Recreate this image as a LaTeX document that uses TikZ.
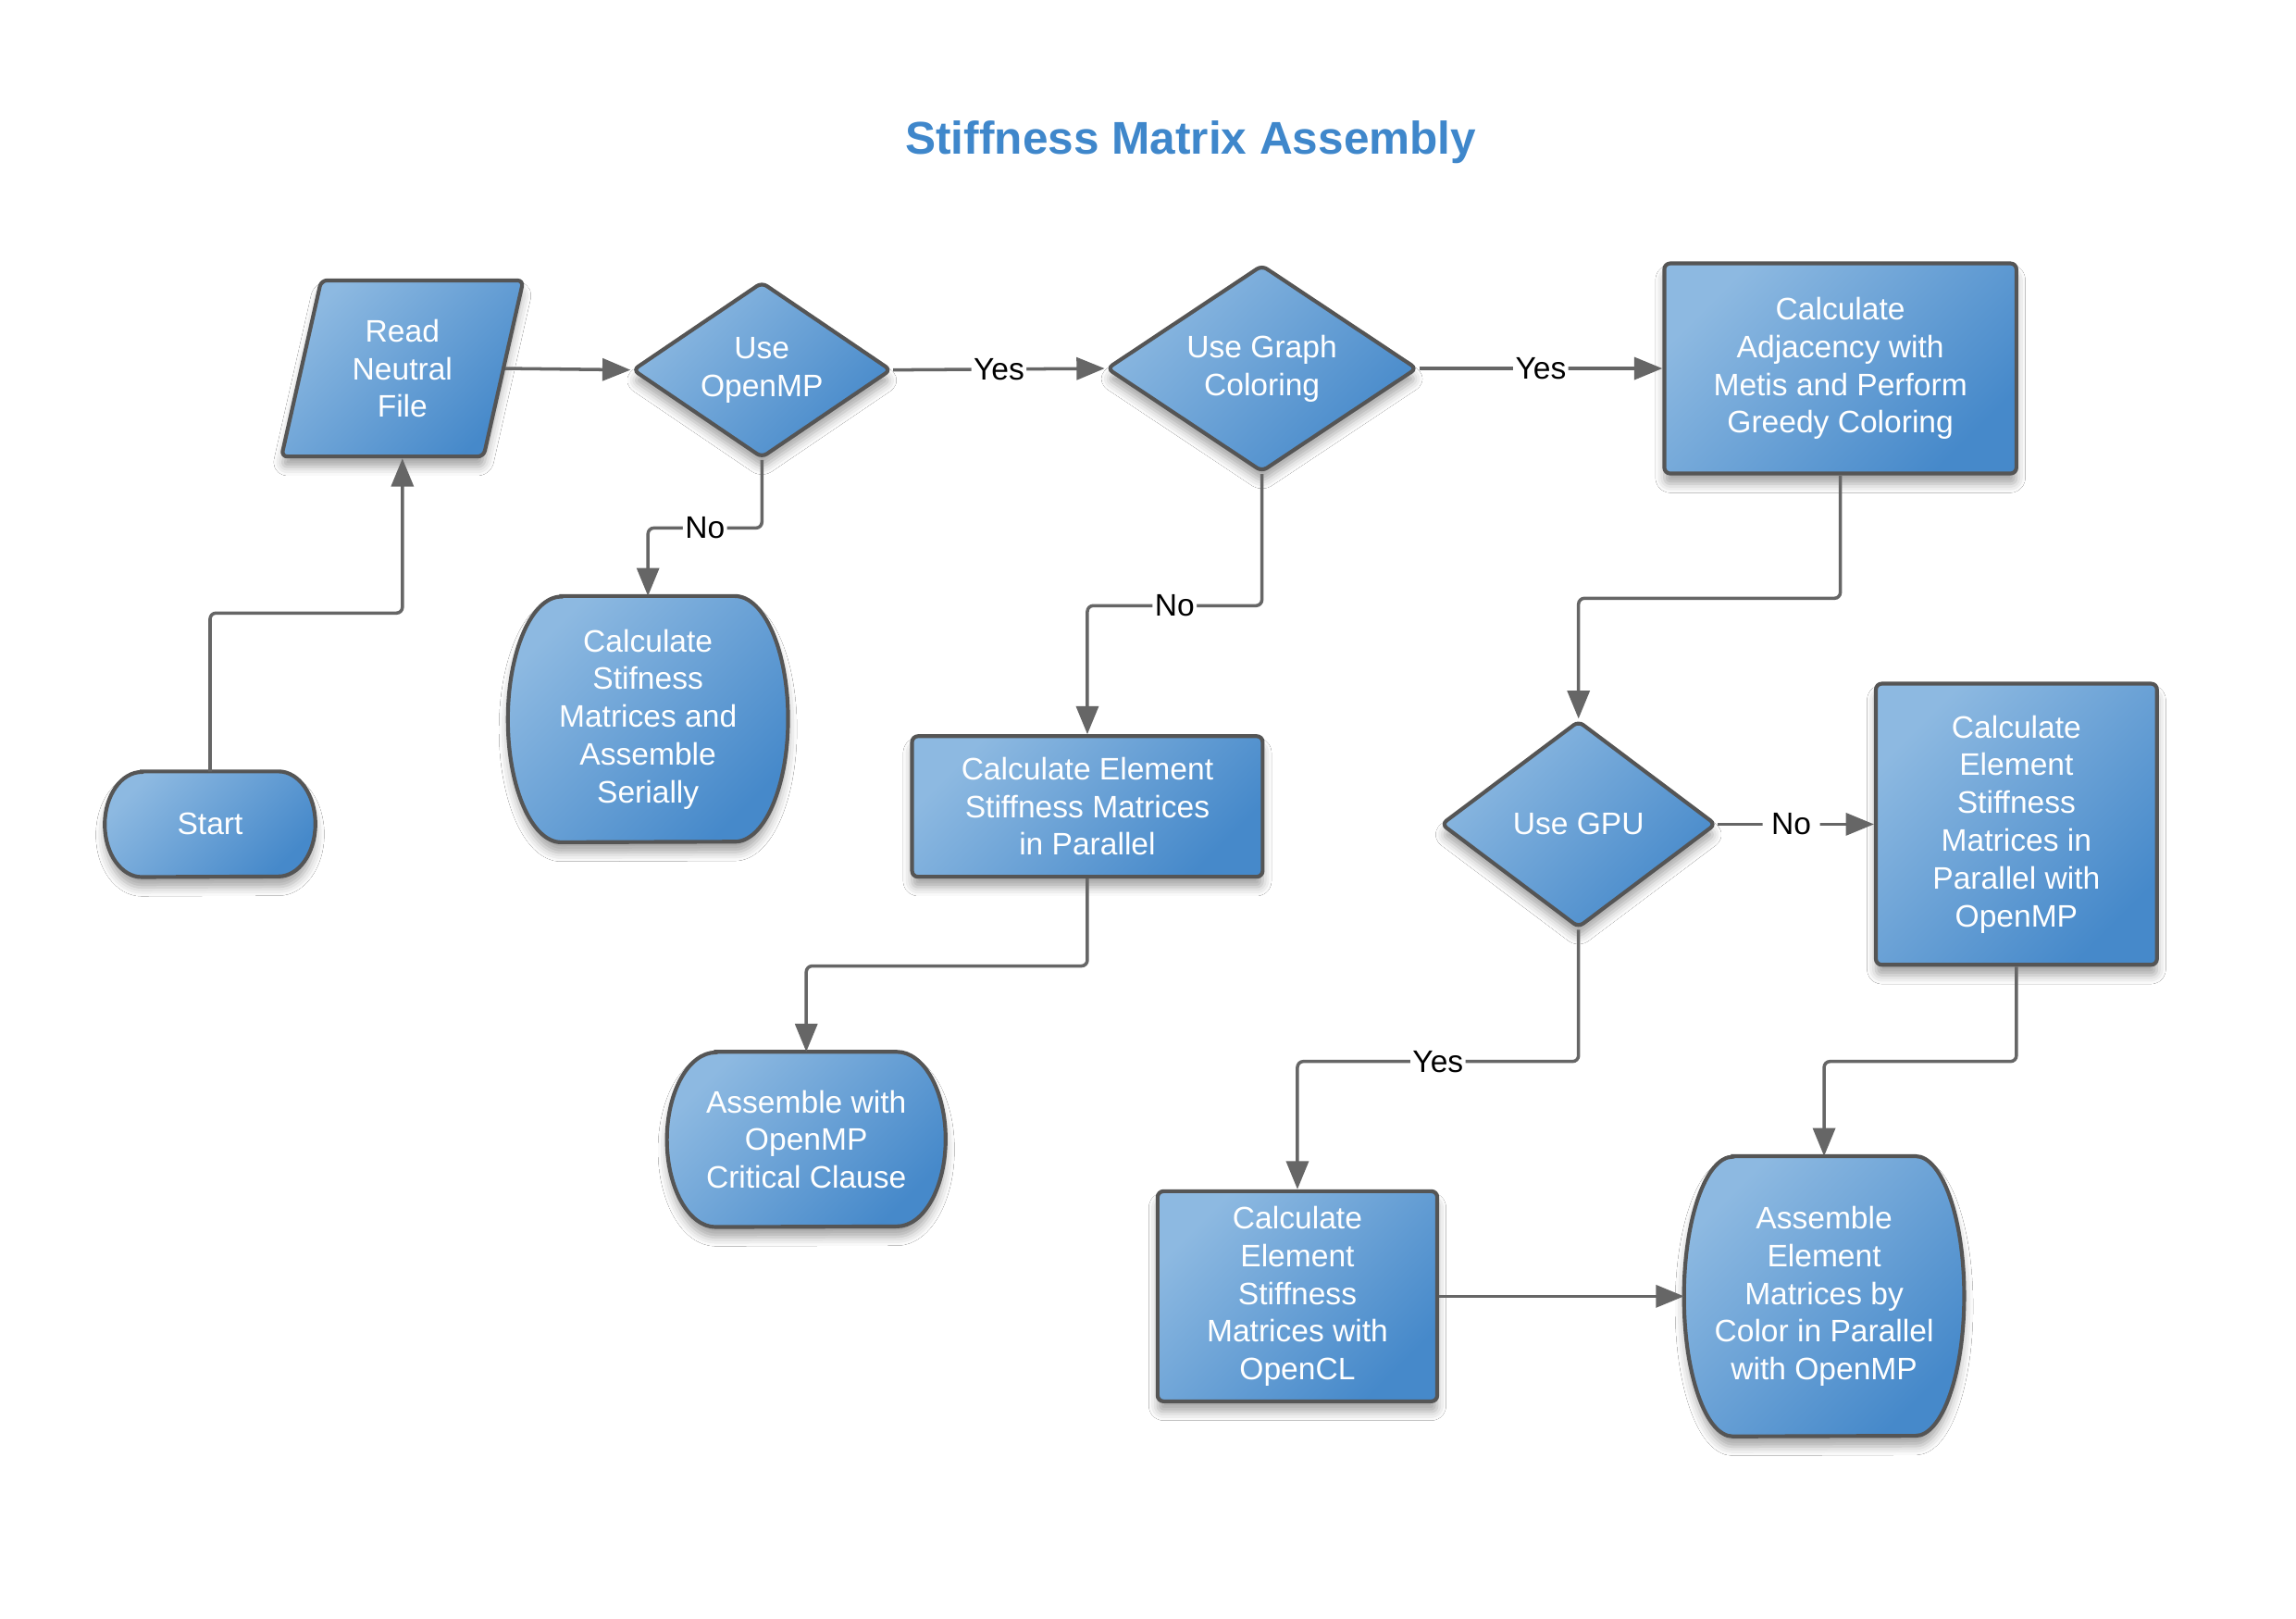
\documentclass[tikz,border=0pt]{standalone}
\usepackage{fontspec}
\setmainfont{Liberation Sans}
\usetikzlibrary{shapes.geometric,arrows.meta,shadows.blur,calc,backgrounds}
\definecolor{boxlight}{HTML}{8DB9E1}
\definecolor{boxdark}{HTML}{4689CA}
\definecolor{boxline}{HTML}{555555}
\definecolor{connline}{HTML}{666666}
\definecolor{titleblue}{HTML}{3F87CB}
% terminator outline behind a text node: name, x radius, half height
\newcommand{\termbody}[3]{%
	\path[fcfill] ($(#1.north west)+(#2,0)$) -- ($(#1.north east)+(-#2,0)$)
		arc[start angle=-90, end angle=90, x radius=#2, y radius=#3]
		-- ($(#1.south west)+(#2,0)$)
		arc[start angle=90, end angle=270, x radius=#2, y radius=#3] -- cycle;}

\begin{document}
\begin{tikzpicture}[x=1pt,y=-1pt,
	fcfill/.style={draw=boxline, line width=2.6pt, top color=boxlight, bottom color=boxdark,
		shading angle=45,
		blur shadow={shadow xshift=0pt, shadow yshift=-7pt, shadow blur radius=6pt, shadow opacity=35}},
	fctext/.style={text=white, align=center, inner sep=0pt, font=\fontsize{21}{25.5}\selectfont},
	block/.style={fcfill, fctext, rectangle, rounded corners=4pt},
	decision/.style={fcfill, fctext, diamond, aspect=1.5, rounded corners=4pt},
	io/.style={fcfill, fctext, trapezium, trapezium left angle=76, trapezium right angle=104,
		trapezium stretches=true, rounded corners=4pt},
	terminal/.style={fctext, rectangle},
	conn/.style={draw=connline, line width=2.2pt, rounded corners=4pt, -{Triangle[length=19pt,width=15pt]}},
	lbl/.style={fill=white, text=black, inner sep=1.5pt, font=\fontsize{21}{25.5}\selectfont},
	titletext/.style={text=titleblue, font=\fontsize{31}{36}\selectfont\bfseries}]
	\useasboundingbox (0,0) rectangle (1552,1094);
	\node[titletext] (title) at (805,96) {Stiffness Matrix Assembly};
	\node[io, minimum width=164, minimum height=119] (read) at (272,249) {Read\\Neutral\\File};
	\node[decision, minimum width=175, minimum height=119] (omp) at (515,250) {Use\\OpenMP};
	\node[decision, minimum width=210, minimum height=140] (graph) at (853,249) {Use Graph\\Coloring};
	\node[block, minimum width=238, minimum height=142] (adj) at (1244,249) {Calculate\\Adjacency with\\Metis and Perform\\Greedy Coloring};
	\node[terminal, minimum width=142, minimum height=71] (start) at (142,557) {Start};
	\node[terminal, minimum width=189, minimum height=166] (serial) at (438,486) {Calculate\\Stifness\\Matrices and\\Assemble\\Serially};
	\node[block, minimum width=237, minimum height=95] (elempar) at (735,545) {Calculate Element\\Stiffness Matrices\\in Parallel};
	\node[terminal, minimum width=188, minimum height=118] (critical) at (545,770) {Assemble with\\OpenMP\\Critical Clause};
	\node[decision, minimum width=186, minimum height=140] (gpu) at (1067,557) {Use GPU};
	\node[block, minimum width=190, minimum height=190] (elemomp) at (1363,557) {Calculate\\Element\\Stiffness\\Matrices in\\Parallel with\\OpenMP};
	\node[block, minimum width=189, minimum height=142] (opencl) at (877,876) {Calculate\\Element\\Stiffness\\Matrices with\\OpenCL};
	\node[terminal, minimum width=189, minimum height=189] (color) at (1233,876) {Assemble\\Element\\Matrices by\\Color in Parallel\\with OpenMP};
	\begin{scope}[on background layer]
		\fill[white] (0,0) rectangle (1552,1094);
		\termbody{start}{25}{35.5}
		\termbody{serial}{36}{83}
		\termbody{critical}{33}{59}
		\termbody{color}{33}{94.5}
	\end{scope}
	\draw[conn] (start.north) -- ++(0,-107) -| (read.south);
	\draw[conn] (read.east) -- (omp.west);
	\draw[conn] (omp.east) -- node[lbl]{Yes} (graph.west);
	\draw[conn] (graph.east) -- node[lbl]{Yes} (adj.west);
	\draw[conn] (omp.south) -- ++(0,46) -| node[lbl, pos=0.25]{No} (serial.north);
	\draw[conn] (graph.south) -- ++(0,89) -| node[lbl, pos=0.25]{No} (elempar.north);
	\draw[conn] (elempar.south) -- ++(0,59) -| (critical.north);
	\draw[conn] (adj.south) -- ++(0,83) -| (gpu.north);
	\draw[conn] (gpu.east) -- node[lbl, pos=0.47, inner xsep=6pt]{No} (elemomp.west);
	\draw[conn] (gpu.south) -- ++(0,89) -| node[lbl, pos=0.25]{Yes} (opencl.north);
	\draw[conn] (elemomp.south) -- ++(0,64) -| (color.north);
	\draw[conn] (opencl.east) -- (color.west);
\end{tikzpicture}
\end{document}
